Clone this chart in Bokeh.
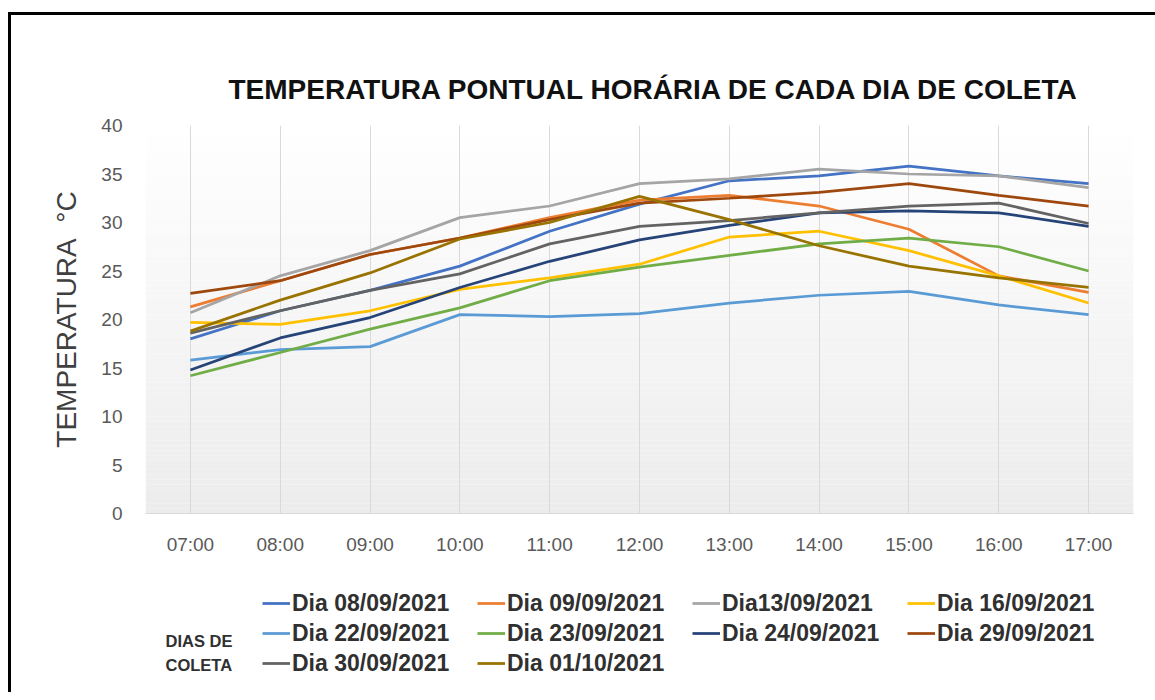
from bokeh.plotting import figure
from bokeh.layouts import column
from bokeh.models import Range1d, FixedTicker, Legend, LegendItem, Label, BoxAnnotation
from bokeh.embed import file_html
from bokeh.resources import INLINE

hours = ["07:00", "08:00", "09:00", "10:00", "11:00", "12:00",
         "13:00", "14:00", "15:00", "16:00", "17:00"]

y_ticks = [0, 5, 10, 15, 20, 25, 30, 35, 40]

names = ["Dia 08/09/2021", "Dia 09/09/2021", "Dia13/09/2021", "Dia 16/09/2021",
         "Dia 22/09/2021", "Dia 23/09/2021", "Dia 24/09/2021", "Dia 29/09/2021",
         "Dia 30/09/2021", "Dia 01/10/2021"]

colors = ["#4472C4", "#ED7D31", "#A5A5A5", "#FFC000", "#5B9BD5",
          "#70AD47", "#264478", "#9E480E", "#636363", "#997300"]

d_0809 = [18.0, 20.9, 23.0, 25.5, 29.1, 31.9, 34.3, 34.8, 35.8, 34.8, 34.0]
d_0909 = [21.3, 24.0, 26.7, 28.4, 30.5, 32.3, 32.8, 31.7, 29.3, 24.5, 22.8]
d_1309 = [20.7, 24.5, 27.1, 30.5, 31.7, 34.0, 34.5, 35.5, 35.0, 34.8, 33.6]
d_1609 = [19.7, 19.5, 20.9, 23.1, 24.3, 25.7, 28.5, 29.1, 27.1, 24.5, 21.7]
d_2209 = [15.8, 16.9, 17.2, 20.5, 20.3, 20.6, 21.7, 22.5, 22.9, 21.5, 20.5]
d_2309 = [14.2, 16.6, 19.0, 21.2, 24.0, 25.4, 26.6, 27.8, 28.4, 27.5, 25.0]
d_2409 = [14.8, 18.1, 20.2, 23.3, 26.0, 28.2, 29.7, 31.0, 31.2, 31.0, 29.6]
d_2909 = [22.7, 24.0, 26.7, 28.4, 30.3, 32.0, 32.5, 33.1, 34.0, 32.8, 31.7]
d_3009 = [18.6, 20.9, 23.0, 24.7, 27.8, 29.6, 30.2, 31.0, 31.7, 32.0, 29.9]
d_0110 = [18.8, 22.0, 24.8, 28.3, 30.0, 32.7, 30.3, 27.6, 25.5, 24.3, 23.3]

series = [d_0809, d_0909, d_1309, d_1609, d_2209, d_2309, d_2409, d_2909, d_3009, d_0110]

FONT = "Liberation Sans"
W = 1144
BL, BR = 134, 22   # frame spans window x 145..1133

p = figure(width=W, height=560, output_backend="svg", toolbar_location=None,
           x_range=Range1d(-0.5, len(hours) - 0.5), y_range=Range1d(0, 40),
           min_border_left=BL, min_border_right=BR, min_border_top=110,
           min_border_bottom=62)

p.outline_line_color = None
p.background_fill_color = "white"
p.border_fill_color = "white"

# plot-area gradient (white at top to light grey at bottom)
nb = 80
for i in range(nb):
    b = 40.0 * i / nb
    t = 40.0 * (i + 1) / nb
    g = int(round(236 + (255 - 236) * (i + 0.5) / nb))
    p.add_layout(BoxAnnotation(bottom=b, top=t, fill_color=(g, g, g), fill_alpha=1.0,
                               line_color=None, level="image"))

# title
p.title.text = "TEMPERATURA PONTUAL HORÁRIA DE CADA DIA DE COLETA"
p.title.align = "left"
p.title.offset = 83
p.title.text_font = FONT
p.title.text_font_size = "28px"
p.title.text_font_style = "bold"
p.title.text_color = "#111111"
p.title.standoff = 42

# axes
xs = list(range(len(hours)))
p.xaxis.ticker = FixedTicker(ticks=xs)
p.xaxis.major_label_overrides = {i: h for i, h in enumerate(hours)}
p.yaxis.ticker = FixedTicker(ticks=y_ticks)
for ax in (p.xaxis, p.yaxis):
    ax.major_tick_line_color = None
    ax.minor_tick_line_color = None
    ax.major_label_text_font = FONT
    ax.major_label_text_font_size = "19px"
    ax.major_label_text_color = "#595959"
p.yaxis.axis_line_color = None
p.xaxis.axis_line_color = "#D9D9D9"
p.xaxis.major_label_standoff = 14
p.yaxis.major_label_standoff = 17
p.yaxis.axis_label = "TEMPERATURA\u00a0\u00a0°C"
p.yaxis.axis_label_text_font = FONT
p.yaxis.axis_label_text_font_size = "28px"
p.yaxis.axis_label_text_font_style = "normal"
p.yaxis.axis_label_text_color = "#404040"
p.yaxis.axis_label_standoff = 16

p.ygrid.visible = False
p.xgrid.ticker = FixedTicker(ticks=xs)
p.xgrid.grid_line_color = "#D9D9D9"
p.xgrid.grid_line_width = 1

for col, vals in zip(colors, series):
    p.line(xs, vals, line_color=col, line_width=2.75)

# legend area: a panel below the chart whose frame is aligned with the chart's frame;
# its x range equals window pixels (145..1133), its y range is 692 - window y.
LH = 117
lg = figure(width=W, height=LH, output_backend="svg", toolbar_location=None,
            x_range=Range1d(145, 1133), y_range=Range1d(0, LH),
            x_axis_type=None, y_axis_type=None,
            min_border_left=BL, min_border_right=BR, min_border_top=0, min_border_bottom=0)
lg.outline_line_color = None
lg.grid.visible = False
lg.background_fill_color = "white"
lg.border_fill_color = "white"

nan = float("nan")
items = []
for name, col in zip(names, colors):
    r = lg.line([nan], [nan], line_color=col, line_width=2.75)
    items.append(LegendItem(label=name, renderers=[r]))

legend = Legend(items=items, orientation="horizontal", ncols=4, location=(117, 14),
                padding=0, margin=0, border_line_color=None, background_fill_alpha=0,
                label_text_font=FONT, label_text_font_size="23px",
                label_text_font_style="bold", label_text_color="#303030",
                glyph_width=28, glyph_height=30, label_height=30, label_width=185,
                label_standoff=2, spacing=0)
lg.add_layout(legend, "center")

for txt, yv in (("DIAS DE", 52), ("COLETA", 28)):
    lg.add_layout(Label(x=165, y=yv, text=txt, text_font=FONT,
                        text_font_size="16.5px", text_font_style="bold",
                        text_color="#303030", text_baseline="middle", text_align="left"))

layout = column(p, lg, spacing=0)
layout.styles = {"border-left": "3px solid black", "border-top": "3px solid black",
                 "margin-left": "8px", "margin-top": "12px"}

open("out.html", "w").write(file_html(layout, INLINE))
